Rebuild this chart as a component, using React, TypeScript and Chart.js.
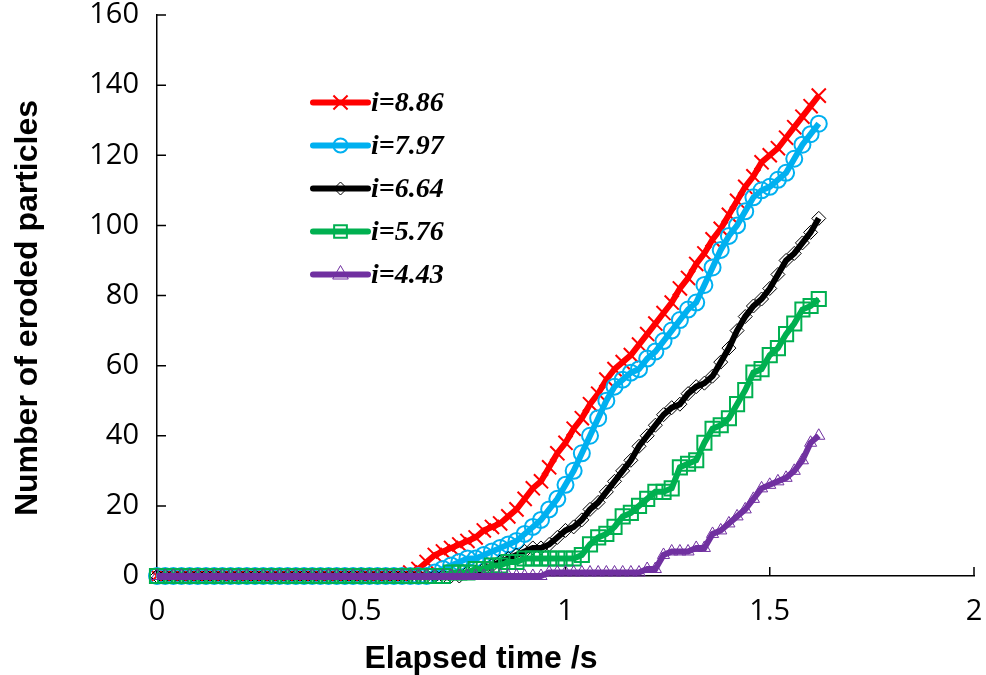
import { useEffect, useRef } from "react";
import { Chart, registerables } from "chart.js";

Chart.register(...registerables);

// Elapsed time (s) of each sample
const TIME = [
  0, 0.02, 0.04, 0.06, 0.08, 0.1, 0.12, 0.14, 0.16, 0.18,
  0.2, 0.22, 0.24, 0.26, 0.28, 0.3, 0.32, 0.34, 0.36, 0.38,
  0.4, 0.42, 0.44, 0.46, 0.48, 0.5, 0.52, 0.54, 0.56, 0.58,
  0.6, 0.62, 0.64, 0.66, 0.68, 0.7, 0.72, 0.74, 0.76, 0.78,
  0.8, 0.82, 0.84, 0.86, 0.88, 0.9, 0.92, 0.94, 0.96, 0.98,
  1, 1.02, 1.04, 1.06, 1.08, 1.1, 1.12, 1.14, 1.16, 1.18,
  1.2, 1.22, 1.24, 1.26, 1.28, 1.3, 1.32, 1.34, 1.36, 1.38,
  1.4, 1.42, 1.44, 1.46, 1.48, 1.5, 1.52, 1.54, 1.56, 1.58,
  1.6, 1.62,
];

// Number of eroded particles for each hydraulic gradient i
const ERODED_886 = [
  0, 0, 0, 0, 0, 0, 0, 0, 0, 0,
  0, 0, 0, 0, 0, 0, 0, 0, 0, 0,
  0, 0, 0, 0, 0, 0, 0, 0, 0, 0,
  0, 1, 2, 4, 6, 7, 8, 9, 10, 11,
  13, 14, 15, 17, 19, 22, 25, 27, 31, 35,
  38, 42, 45, 49, 52, 56, 59, 61, 63, 66,
  69, 72, 75, 78, 82, 85, 89, 92, 96, 99,
  103, 107, 111, 114, 118, 120, 122, 125, 128, 131,
  134, 137,
];
const ERODED_797 = [
  0, 0, 0, 0, 0, 0, 0, 0, 0, 0,
  0, 0, 0, 0, 0, 0, 0, 0, 0, 0,
  0, 0, 0, 0, 0, 0, 0, 0, 0, 0,
  0, 0, 0, 0, 1, 2, 3, 4, 5, 5,
  6, 7, 8, 9, 10, 12, 14, 16, 19, 22,
  26, 30, 35, 40, 45, 50, 54, 56, 58, 59,
  62, 64, 67, 70, 73, 76, 78, 83, 88, 93,
  97, 100, 104, 108, 110, 111, 113, 115, 119, 123,
  126, 129,
];
const ERODED_664 = [
  0, 0, 0, 0, 0, 0, 0, 0, 0, 0,
  0, 0, 0, 0, 0, 0, 0, 0, 0, 0,
  0, 0, 0, 0, 0, 0, 0, 0, 0, 0,
  0, 0, 0, 0, 0, 0, 0, 0, 1, 1,
  2, 3, 4, 5, 6, 7, 8, 8, 9, 11,
  13, 14, 16, 19, 21, 24, 27, 30, 33, 37,
  40, 43, 46, 48, 49, 52, 54, 55, 57, 61,
  65, 70, 74, 77, 79, 82, 86, 90, 92, 95,
  98, 102,
];
const ERODED_576 = [
  0, 0, 0, 0, 0, 0, 0, 0, 0, 0,
  0, 0, 0, 0, 0, 0, 0, 0, 0, 0,
  0, 0, 0, 0, 0, 0, 0, 0, 0, 0,
  0, 0, 0, 0, 0, 0, 1, 1, 1, 2,
  2, 3, 3, 4, 4, 5, 5, 5, 5, 5,
  5, 5, 6, 9, 11, 12, 14, 17, 18, 20,
  22, 24, 24, 25, 31, 32, 33, 38, 42, 43,
  45, 49, 53, 58, 59, 63, 65, 69, 72, 76,
  77, 79,
];
const ERODED_443 = [
  0, 0, 0, 0, 0, 0, 0, 0, 0, 0,
  0, 0, 0, 0, 0, 0, 0, 0, 0, 0,
  0, 0, 0, 0, 0, 0, 0, 0, 0, 0,
  0, 0, 0, 0, 0, 0, 0, 0, 0, 0,
  0, 0, 0, 0, 0, 0, 0, 0, 1, 1,
  1, 1, 1, 1, 1, 1, 1, 1, 1, 1,
  2, 2, 6, 7, 7, 7, 8, 8, 12, 13,
  15, 17, 19, 22, 25, 26, 27, 28, 30, 33,
  38, 40,
];

const LABELS = ["i=8.86", "i=7.97", "i=6.64", "i=5.76", "i=4.43"];
const X_TICKS = [0, 0.5, 1, 1.5, 2];
const Y_TICKS = [0, 20, 40, 60, 80, 100, 120, 140, 160];

const X_TITLE = "Elapsed time /s";
const Y_TITLE = "Number of eroded particles";

type Look = {
  color: string;
  point: string;
  radius: number;
  legendRadius: number;
  border: number;
};

const LOOKS: Look[] = [
  { color: "#FF0000", point: "crossRot", radius: 10, legendRadius: 10, border: 2 },
  { color: "#00B0F0", point: "circle", radius: 8, legendRadius: 7, border: 2 },
  { color: "#000000", point: "rectRot", radius: 7, legendRadius: 6.5, border: 1 },
  { color: "#00B050", point: "rect", radius: 10, legendRadius: 9, border: 2 },
  { color: "#7030A0", point: "triangle", radius: 7, legendRadius: 9, border: 1 },
];

const SERIES = [ERODED_886, ERODED_797, ERODED_664, ERODED_576, ERODED_443];

const TITLE_FONT = "bold 32px 'Liberation Sans', Arial, sans-serif";
const LEGEND_FONT = "italic bold 28px 'Liberation Serif', 'Times New Roman', serif";

function drawMarker(ctx: CanvasRenderingContext2D, style: string, r: number, x: number, y: number) {
  ctx.beginPath();
  if (style === "crossRot") {
    const d = r * Math.SQRT1_2;
    ctx.moveTo(x - d, y - d);
    ctx.lineTo(x + d, y + d);
    ctx.moveTo(x - d, y + d);
    ctx.lineTo(x + d, y - d);
    ctx.stroke();
    return;
  }
  if (style === "circle") {
    ctx.arc(x, y, r, 0, Math.PI * 2);
  } else if (style === "rectRot") {
    ctx.moveTo(x, y - r);
    ctx.lineTo(x + r, y);
    ctx.lineTo(x, y + r);
    ctx.lineTo(x - r, y);
    ctx.closePath();
  } else if (style === "rect") {
    const s = r * Math.SQRT1_2;
    ctx.rect(x - s, y - s, 2 * s, 2 * s);
  } else if (style === "triangle") {
    const a = (2 * Math.PI) / 3;
    ctx.moveTo(x, y - r);
    ctx.lineTo(x + Math.sin(a) * r, y - Math.cos(a) * r);
    ctx.lineTo(x + Math.sin(2 * a) * r, y - Math.cos(2 * a) * r);
    ctx.closePath();
  }
  ctx.fill();
  ctx.stroke();
}

// Inward tick marks, axis titles and the in-plot legend
const decorations = {
  id: "decorations",
  beforeDatasetsDraw(chart: any) {
    const { ctx, chartArea, scales } = chart;
    const len = 9;
    ctx.save();
    ctx.strokeStyle = "#000";
    ctx.lineWidth = 1.5;
    ctx.beginPath();
    for (const v of Y_TICKS) {
      const y = scales.y.getPixelForValue(v);
      ctx.moveTo(chartArea.left, y);
      ctx.lineTo(chartArea.left + len, y);
    }
    for (const v of X_TICKS) {
      const x = scales.x.getPixelForValue(v);
      ctx.moveTo(x, chartArea.bottom);
      ctx.lineTo(x, chartArea.bottom - len);
    }
    ctx.stroke();
    ctx.restore();
  },
  afterDraw(chart: any) {
    const { ctx } = chart;
    ctx.save();
    ctx.fillStyle = "#000";
    ctx.font = TITLE_FONT;
    ctx.textAlign = "center";
    ctx.textBaseline = "alphabetic";
    ctx.fillText(X_TITLE, 481, 668);

    ctx.translate(37, 308);
    ctx.rotate(-Math.PI / 2);
    ctx.fillText(Y_TITLE, 0, 0);
    ctx.restore();

    // legend
    ctx.save();
    const x0 = 313;
    const x1 = 368;
    const top = 102.5;
    const gap = 43;
    LABELS.forEach((label, i) => {
      const look = LOOKS[i];
      const y = top + i * gap;
      ctx.strokeStyle = look.color;
      ctx.lineWidth = 6;
      ctx.lineCap = "round";
      ctx.beginPath();
      ctx.moveTo(x0, y);
      ctx.lineTo(x1, y);
      ctx.stroke();
      ctx.lineCap = "butt";
      ctx.lineWidth = look.border;
      ctx.fillStyle = "rgba(0,0,0,0)";
      drawMarker(ctx, look.point, look.legendRadius, (x0 + x1) / 2, y);
      ctx.fillStyle = "#000";
      ctx.font = LEGEND_FONT;
      ctx.textAlign = "left";
      ctx.textBaseline = "middle";
      ctx.fillText(label, 371, y + 1);
    });
    ctx.restore();
  },
};

const noOverflow = (s: any) => {
  s.paddingTop = 0;
  s.paddingBottom = 0;
  s.paddingLeft = 0;
  s.paddingRight = 0;
};

export default function App() {
  const canvasRef = useRef<HTMLCanvasElement | null>(null);

  useEffect(() => {
    const canvas = canvasRef.current;
    if (!canvas) return;

    const datasets = SERIES.map((values, i) => {
      const look = LOOKS[i];
      return {
        label: LABELS[i],
        data: TIME.map((t, k) => ({ x: t, y: values[k] })),
        borderColor: look.color,
        borderWidth: 6,
        backgroundColor: look.color,
        pointStyle: look.point,
        pointRadius: look.radius,
        pointBorderWidth: look.border,
        pointBorderColor: look.color,
        pointBackgroundColor: "rgba(0,0,0,0)",
        tension: 0,
        fill: false,
        clip: false as any,
        order: SERIES.length - 1 - i,
      };
    });

    const chart = new Chart(canvas, {
      type: "line",
      data: { datasets },
      options: {
        animation: false,
        responsive: true,
        maintainAspectRatio: false,
        devicePixelRatio: 1,
        events: [],
        layout: { padding: { top: 15, right: 12, bottom: 0, left: 0 } },
        plugins: {
          legend: { display: false },
          tooltip: { enabled: false },
        },
        scales: {
          x: {
            type: "linear",
            min: 0,
            max: 2,
            afterFit: (s: any) => {
              s.height = 99;
              noOverflow(s);
            },
            afterBuildTicks: (s: any) => {
              s.ticks = X_TICKS.map((v) => ({ value: v }));
            },
            ticks: {
              color: "#000",
              font: { family: "'Open Sans', sans-serif", size: 29 },
              padding: 18,
              maxRotation: 0,
              callback: (v: any) => String(v),
            },
            grid: { display: false, drawTicks: false },
            border: { display: true, color: "#000", width: 1.5 },
          },
          y: {
            type: "linear",
            min: 0,
            max: 160,
            afterFit: (s: any) => {
              s.width = 157;
              noOverflow(s);
            },
            afterBuildTicks: (s: any) => {
              s.ticks = Y_TICKS.map((v) => ({ value: v }));
            },
            ticks: {
              color: "#000",
              font: { family: "'Open Sans', sans-serif", size: 29 },
              padding: 18,
              callback: (v: any) => String(v),
            },
            grid: { display: false, drawTicks: false },
            border: { display: true, color: "#000", width: 1.5 },
          },
        },
      },
      plugins: [decorations],
    });

    return () => chart.destroy();
  }, []);

  return (
    <div style={{ position: "absolute", left: 0, top: 0, width: 986, height: 675, background: "#fff" }}>
      <canvas ref={canvasRef} />
    </div>
  );
}
